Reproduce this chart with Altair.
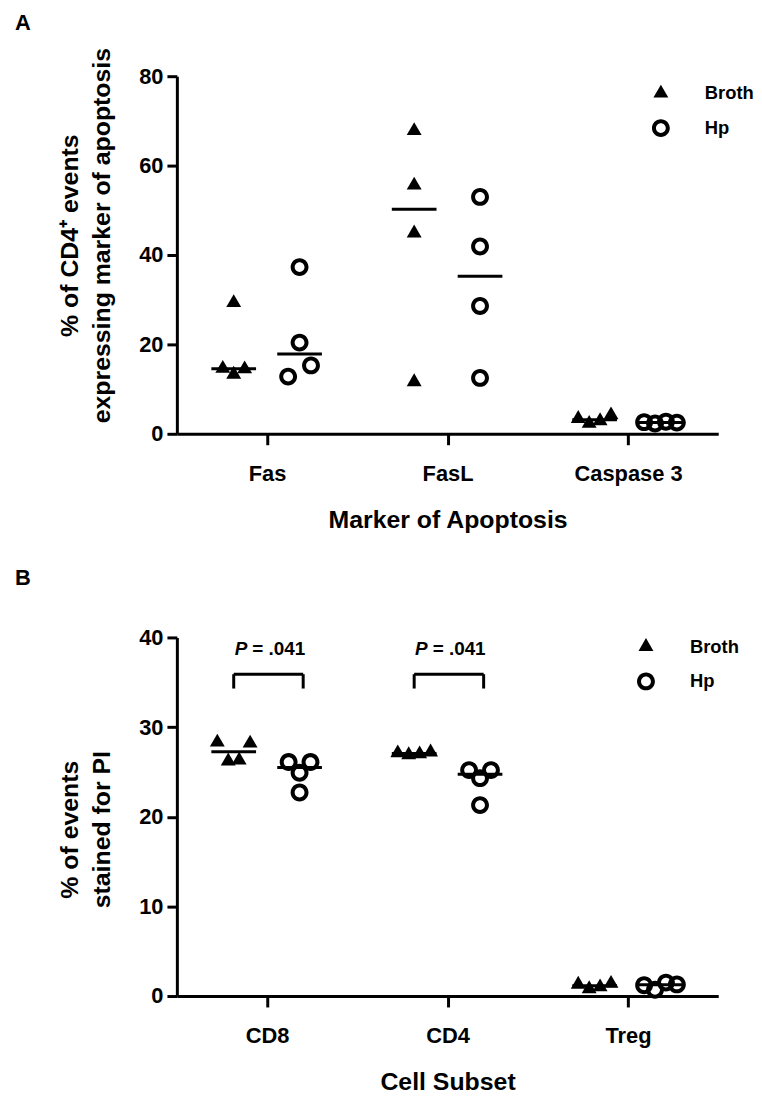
import altair as alt
import pandas as pd

FONT = "Liberation Sans"
series_names = ["Broth", "Hp"]
series_offset = [-0.185, 0.18]
# unit-square symbol paths (filled triangle, ring)
TRIANGLE = "M0,-0.96L0.833,0.48L-0.833,0.48Z"
RING = ("M-1,0A1,1,0,1,0,1,0A1,1,0,1,0,-1,0Z"
        "M-0.55,0A0.55,0.55,0,1,1,0.55,0A0.55,0.55,0,1,1,-0.55,0Z")

# ---------------- Panel A data ----------------
a_categories = ["Fas", "FasL", "Caspase 3"]
a_broth = [
    [14.6, 13.3, 14.5, 29.3],   # Fas
    [67.8, 55.6, 44.9, 11.6],   # FasL
    [3.4, 2.3, 2.9, 4.2],       # Caspase 3
]
a_hp = [
    [37.3, 20.4, 12.8, 15.3],
    [53.0, 41.9, 28.6, 12.5],
    [2.6, 2.3, 2.7, 2.5],
]
a_ticks = [0, 20, 40, 60, 80]

# ---------------- Panel B data ----------------
b_categories = ["CD8", "CD4", "Treg"]
b_broth = [
    [28.3, 26.2, 26.3, 28.2],
    [27.1, 26.9, 27.0, 27.2],
    [1.3, 0.8, 1.0, 1.4],
]
b_hp = [
    [22.7, 26.1, 24.9, 26.1],
    [25.2, 24.3, 25.2, 21.3],
    [1.2, 0.7, 1.5, 1.3],
]
b_ticks = [0, 10, 20, 30, 40]
b_pvalue_cats = [1, 2]
b_pvalue_text = ["= .041", "= .041"]
b_bracket_top = [35.9, 35.9]
b_bracket_leg = [34.3, 34.3]
b_pvalue_y = [38.7, 38.7]

PLOT_W = 545
PX_PER_X = PLOT_W / 3.0
SYM = 324


def build_df(broth, hp, ymax, height):
    px_per_y = height / ymax
    rows = []
    for ci, (bv, hv) in enumerate(zip(broth, hp)):
        for si, vals in enumerate([bv, hv]):
            center = ci + 1 + series_offset[si]
            order = sorted(range(len(vals)), key=lambda k: vals[k])
            clusters, cur = [], [order[0]]
            for k in order[1:]:
                if (vals[k] - vals[cur[-1]]) * px_per_y < 18:
                    cur.append(k)
                else:
                    clusters.append(cur)
                    cur = [k]
            clusters.append(cur)
            offs = {}
            for cl in clusters:
                cl = sorted(cl)
                n = len(cl)
                step = 23 if n == 2 else 11
                for j, k in enumerate(cl):
                    offs[k] = (j - (n - 1) / 2) * step
            for k, v in enumerate(vals):
                rows.append({
                    "series": series_names[si],
                    "value": v,
                    "xc": center,
                    "x": center + offs[k] / PX_PER_X,
                })
    return pd.DataFrame(rows)


def panel(df, cats, ticks, height, ytitle, xtitle, letter, legend_xy, title_y, title_offset,
          extra=None):
    expr = "[" + ",".join("'%s'" % c for c in cats) + "][datum.value - 1]"
    xscale = alt.Scale(domain=[0.5, 3.5], nice=False, zero=False)
    yscale = alt.Scale(domain=[ticks[0], ticks[-1]], nice=False)
    xaxis = alt.Axis(values=[1, 2, 3], labelExpr=expr, title=xtitle, tickSize=11,
                     labelPadding=19, titlePadding=23, labelFlush=False, grid=False)
    yaxis = alt.Axis(values=ticks, title=ytitle, tickSize=10, labelPadding=4,
                     titlePadding=24, titleLineHeight=33, titleY=title_y, grid=False)
    leg = alt.Legend(orient="none", legendX=legend_xy[0], legendY=legend_xy[1], title=None,
                     labelFont=FONT, labelFontSize=18.5, labelFontWeight="bold", labelColor="black",
                     labelOffset=35, rowPadding=16, padding=0, symbolSize=SYM,
                     symbolFillColor="black", symbolStrokeWidth=0, symbolOpacity=1)
    pts = alt.Chart(df).mark_point(filled=True, color="black", opacity=1, size=SYM).encode(
        x=alt.X("x:Q", scale=xscale, axis=xaxis),
        y=alt.Y("value:Q", scale=yscale, axis=yaxis),
        shape=alt.Shape("series:N", scale=alt.Scale(domain=series_names, range=[TRIANGLE, RING]),
                        legend=leg),
    )
    med = alt.Chart(df).mark_tick(orient="horizontal", size=45, thickness=3, color="black").encode(
        x=alt.X("xc:Q", scale=xscale, axis=xaxis),
        y=alt.Y("median(value):Q", scale=yscale, axis=yaxis),
    )
    layers = [pts, med]
    if extra is not None:
        layers += extra(xscale, yscale, xaxis, yaxis)
    return alt.layer(*layers).properties(
        width=PLOT_W, height=height,
        title=alt.TitleParams(letter, anchor="start", frame="group", dx=-163, fontSize=22,
                              font=FONT, fontWeight="bold", color="black", offset=title_offset),
    )


def brackets(xscale, yscale, xaxis, yaxis):
    dfb = pd.DataFrame({
        "cat": b_pvalue_cats,
        "x1": [c + series_offset[0] for c in b_pvalue_cats],
        "x2": [c + 0.2 for c in b_pvalue_cats],
        "top": b_bracket_top,
        "leg": b_bracket_leg,
        "ty": b_pvalue_y,
        "txt": b_pvalue_text,
    })
    legs = pd.concat([
        dfb[["x1", "top", "leg"]].rename(columns={"x1": "xl"}),
        dfb[["x2", "top", "leg"]].rename(columns={"x2": "xl"}),
    ])
    hbar = alt.Chart(dfb).mark_rule(strokeWidth=3, color="black").encode(
        x=alt.X("x1:Q", scale=xscale, axis=xaxis), x2="x2:Q",
        y=alt.Y("top:Q", scale=yscale, axis=yaxis))
    vbar = alt.Chart(legs).mark_rule(strokeWidth=3, color="black").encode(
        x=alt.X("xl:Q", scale=xscale, axis=xaxis),
        y=alt.Y("leg:Q", scale=yscale, axis=yaxis), y2="top:Q")
    ptxt = alt.Chart(dfb).mark_text(text="P", font=FONT, fontSize=19, fontWeight="bold",
                                    fontStyle="italic", align="right", baseline="middle",
                                    dx=-20, color="black").encode(
        x=alt.X("cat:Q", scale=xscale, axis=xaxis), y=alt.Y("ty:Q", scale=yscale, axis=yaxis))
    vtxt = alt.Chart(dfb).mark_text(font=FONT, fontSize=19, fontWeight="bold", align="left",
                                    baseline="middle", dx=-15, color="black").encode(
        x=alt.X("cat:Q", scale=xscale, axis=xaxis), y=alt.Y("ty:Q", scale=yscale, axis=yaxis),
        text="txt:N")
    return [hbar, vbar, ptxt, vtxt]


dfa = build_df(a_broth, a_hp, 80, 360)
dfb_pts = build_df(b_broth, b_hp, 40, 361)

chart_a = panel(dfa, a_categories, a_ticks, 360,
                ["% of CD4\u207a events", "expressing marker of apoptosis"],
                "Marker of Apoptosis", "A", (478, 8), 160, 13)
chart_b = panel(dfb_pts, b_categories, b_ticks, 361,
                ["% of events", "stained for PI"],
                "Cell Subset", "B", (463, 0), 193, 37, extra=brackets)

chart = alt.vconcat(chart_a, chart_b, spacing=35).resolve_scale(
    x="independent", y="independent", shape="independent"
).resolve_legend(
    shape="independent"
).properties(
    padding={"left": 7, "top": 0, "right": 0, "bottom": 0}
).configure_axis(
    labelFont=FONT, titleFont=FONT, labelFontWeight="bold", titleFontWeight="bold",
    labelColor="black", titleColor="black", domainColor="black", tickColor="black",
    domainWidth=3, tickWidth=3, grid=False, labelFontSize=22, titleFontSize=25,
).configure_view(stroke=None)

chart.save("out.html", embed_options={"renderer": "svg", "actions": False})
